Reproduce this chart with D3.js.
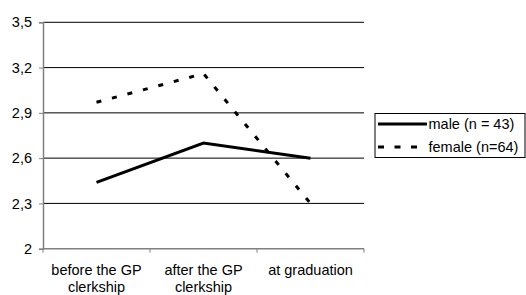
<!DOCTYPE html>
<html><head><meta charset="utf-8">
<script src="https://cdn.jsdelivr.net/npm/d3@7"></script>
<style>body{margin:0;background:#fff}svg{display:block}text{font-family:"Liberation Sans",Arial,sans-serif;fill:#000}</style>
</head><body>
<script>
const categories = [["before the GP","clerkship"],["after the GP","clerkship"],["at graduation"]];
const male = [2.44, 2.70, 2.60];
const female = [2.97, 3.16, 2.30];
const yTicks = [2, 2.3, 2.6, 2.9, 3.2, 3.5];
const yTickLabels = ["2","2,3","2,6","2,9","3,2","3,5"];
const seriesNames = ["male (n = 43)", "female (n=64)"];

const W = 526, H = 295, FS = 14.5;
const svg = d3.select("body").append("svg").attr("width", W).attr("height", H);
const x = d3.scaleBand().domain(d3.range(categories.length)).range([43, 364]);
const y = d3.scaleLinear().domain([2, 3.5]).range([248.7, 22.3]);

// gridlines
svg.append("g").selectAll("line").data(yTicks.slice(1)).join("line")
  .attr("x1", 43).attr("x2", 364).attr("y1", d => y(d)).attr("y2", d => y(d))
  .attr("stroke", "#000").attr("stroke-width", 1);

// y axis
const yAxis = d3.axisLeft(y).tickValues(yTicks).tickFormat((d, i) => yTickLabels[i]).tickSize(4).tickPadding(7);
const gy = svg.append("g").attr("transform", "translate(43,0)").call(yAxis);
gy.select(".domain").attr("stroke", "#808080").attr("stroke-width", 1.5);
gy.selectAll(".tick line").attr("stroke", "#808080");
gy.selectAll(".tick text").attr("font-size", FS).attr("font-family", "Liberation Sans, Arial, sans-serif");

// x axis
const xEdge = d3.scaleLinear().domain([0, categories.length]).range([43, 364]);
const gx = svg.append("g").attr("transform", "translate(0,248.7)");
gx.append("line").attr("x1", 43).attr("x2", 364).attr("stroke", "#808080").attr("stroke-width", 1.5);
gx.selectAll("line.tk").data(d3.range(categories.length + 1)).join("line").attr("class", "tk")
  .attr("x1", d => xEdge(d)).attr("x2", d => xEdge(d)).attr("y1", 0).attr("y2", 4).attr("stroke", "#808080");
const lab = gx.selectAll("text").data(categories).join("text")
  .attr("x", (d, i) => x(i) + x.bandwidth() / 2).attr("y", 26.5)
  .attr("text-anchor", "middle").attr("font-size", FS);
lab.selectAll("tspan").data(d => d).join("tspan")
  .attr("x", function () { return this.parentNode.getAttribute("x"); })
  .attr("dy", (d, i) => i === 0 ? 0 : 16.5).text(d => d);

const line = d3.line().x((d, i) => x(i) + x.bandwidth() / 2).y(d => y(d));
svg.append("path").datum(male).attr("d", line).attr("fill", "none").attr("stroke", "#000").attr("stroke-width", 3);
svg.append("path").datum(female).attr("d", line).attr("fill", "none").attr("stroke", "#000").attr("stroke-width", 3).attr("stroke-dasharray", "5,11");

// legend
const lg = svg.append("g");
lg.append("rect").attr("x", 375).attr("y", 113.5).attr("width", 150).attr("height", 44).attr("fill", "#fff").attr("stroke", "#000").attr("stroke-width", 1);
const dashes = [null, "6,10.5"];
seriesNames.forEach((n, i) => {
  const yy = 124 + i * 23;
  lg.append("line").attr("x1", 378).attr("x2", 427).attr("y1", yy).attr("y2", yy)
    .attr("stroke", "#000").attr("stroke-width", 3).attr("stroke-dasharray", dashes[i]);
  lg.append("text").attr("x", 428.5).attr("y", yy + 5).attr("font-size", FS).text(n);
});
</script>
</body></html>
